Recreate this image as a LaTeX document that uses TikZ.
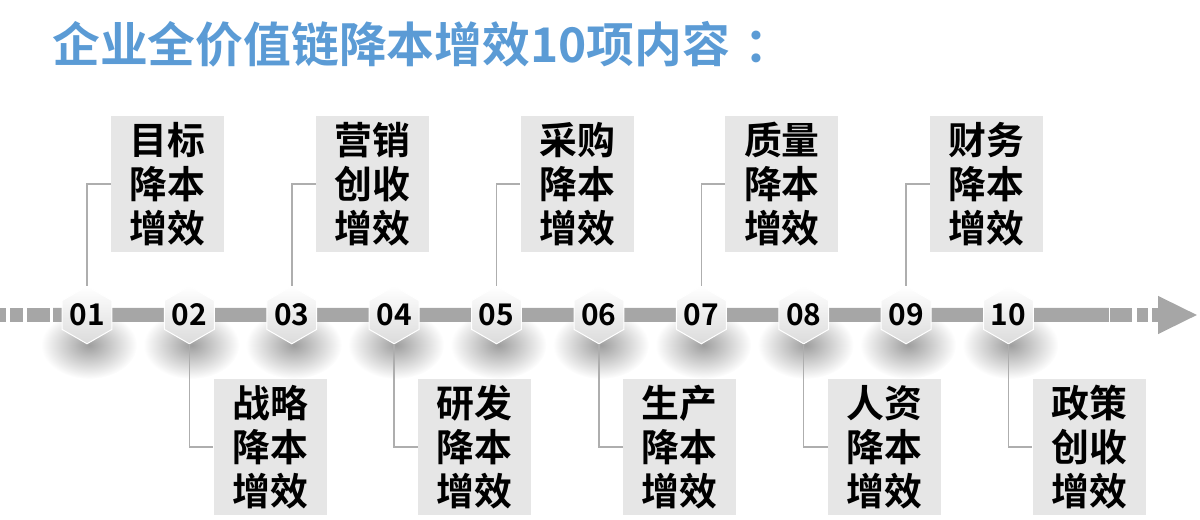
\documentclass[tikz,border=0pt]{standalone}
\usepackage{fontspec}
\setmainfont{Noto Sans CJK SC}[BoldFont=* Bold]
\usepackage{xcolor}
\usepackage{tikz}
\usetikzlibrary{arrows.meta,positioning,shapes.geometric,calc}
\definecolor{tlblue}{HTML}{5B9BD5}
\definecolor{tlaxis}{HTML}{A6A6A6}
\definecolor{tlbox}{HTML}{E6E6E6}
\definecolor{tlline}{HTML}{AEAEAE}
\pgfdeclarelayer{back}
\pgfsetlayers{back,main}

\begin{document}
\begin{tikzpicture}[
  x=1bp, y=1bp,
  node distance=51.5bp,
  title/.style={text=tlblue, inner sep=0pt, font=\bfseries\fontsize{48}{48}\selectfont},
  hex/.style={regular polygon, regular polygon sides=6, shape border rotate=30, minimum size=56bp, inner sep=0pt, text height=21bp, text depth=0bp, top color=white, bottom color=black!14, draw=white, line width=1bp, font=\bfseries\fontsize{30}{30}\selectfont},
  tbox/.style={fill=tlbox, minimum width=113bp, minimum height=136bp, inner sep=0pt, align=center, font=\bfseries\fontsize{38}{44}\selectfont},
  conn/.style={draw=tlline, line width=1.5bp},
  axis/.style={draw=tlaxis, line width=14bp},
  hexshadow/.style={inner color=black!38, outer color=white}
]
\useasboundingbox (0,0) rectangle (1200,520);
\node[title, anchor=west] (ttl) at (52,476) {企业全价值链降本增效10项内容\hspace{14bp}：};

\node[hex] (h01) at (87,205) {01};
\node[hex, right=of h01] (h02) {02};
\node[hex, right=of h02] (h03) {03};
\node[hex, right=of h03] (h04) {04};
\node[hex, right=of h04] (h05) {05};
\node[hex, right=of h05] (h06) {06};
\node[hex, right=of h06] (h07) {07};
\node[hex, right=of h07] (h08) {08};
\node[hex, right=of h08] (h09) {09};
\node[hex, right=of h09] (h10) {10};

\node[tbox, right=-1.5bp of h01, yshift=131bp] (b01) {目标\\降本\\增效};
\node[tbox, right=-1.5bp of h02, yshift=-132bp] (b02) {战略\\降本\\增效};
\node[tbox, right=-1.5bp of h03, yshift=131bp] (b03) {营销\\创收\\增效};
\node[tbox, right=-1.5bp of h04, yshift=-132bp] (b04) {研发\\降本\\增效};
\node[tbox, right=-1.5bp of h05, yshift=131bp] (b05) {采购\\降本\\增效};
\node[tbox, right=-1.5bp of h06, yshift=-132bp] (b06) {生产\\降本\\增效};
\node[tbox, right=-1.5bp of h07, yshift=131bp] (b07) {质量\\降本\\增效};
\node[tbox, right=-1.5bp of h08, yshift=-132bp] (b08) {人资\\降本\\增效};
\node[tbox, right=-1.5bp of h09, yshift=131bp] (b09) {财务\\降本\\增效};
\node[tbox, right=-1.5bp of h10, yshift=-132bp] (b10) {政策\\创收\\增效};

\draw[conn] (h01.north) |- (b01.west);
\draw[conn] (h02.south) |- (b02.west);
\draw[conn] (h03.north) |- (b03.west);
\draw[conn] (h04.south) |- (b04.west);
\draw[conn] (h05.north) |- (b05.west);
\draw[conn] (h06.south) |- (b06.west);
\draw[conn] (h07.north) |- (b07.west);
\draw[conn] (h08.south) |- (b08.west);
\draw[conn] (h09.north) |- (b09.west);
\draw[conn] (h10.south) |- (b10.west);

% shadows and the time axis go behind the hexagons
\begin{pgfonlayer}{back}
\shade[hexshadow] ($(h01)+(2,-30)$) ellipse [x radius=48bp, y radius=34bp];
\shade[hexshadow] ($(h02)+(2,-30)$) ellipse [x radius=48bp, y radius=34bp];
\shade[hexshadow] ($(h03)+(2,-30)$) ellipse [x radius=48bp, y radius=34bp];
\shade[hexshadow] ($(h04)+(2,-30)$) ellipse [x radius=48bp, y radius=34bp];
\shade[hexshadow] ($(h05)+(2,-30)$) ellipse [x radius=48bp, y radius=34bp];
\shade[hexshadow] ($(h06)+(2,-30)$) ellipse [x radius=48bp, y radius=34bp];
\shade[hexshadow] ($(h07)+(2,-30)$) ellipse [x radius=48bp, y radius=34bp];
\shade[hexshadow] ($(h08)+(2,-30)$) ellipse [x radius=48bp, y radius=34bp];
\shade[hexshadow] ($(h09)+(2,-30)$) ellipse [x radius=48bp, y radius=34bp];
\shade[hexshadow] ($(h10)+(2,-30)$) ellipse [x radius=48bp, y radius=34bp];
\draw[axis] (0,205) -- (6,205);
\draw[axis] (10,205) -- (23,205);
\draw[axis] (27,205) -- (50,205);
\draw[axis] (53,205) -- ($(h10.east)+(75,0)$);
\draw[axis] (1110,205) -- (1132,205);
\draw[axis] (1137,205) -- (1148,205);
\draw[axis, -{Triangle[length=40bp, width=35bp]}] (1152,205) -- (1198,205);
\end{pgfonlayer}
\end{tikzpicture}
\end{document}
